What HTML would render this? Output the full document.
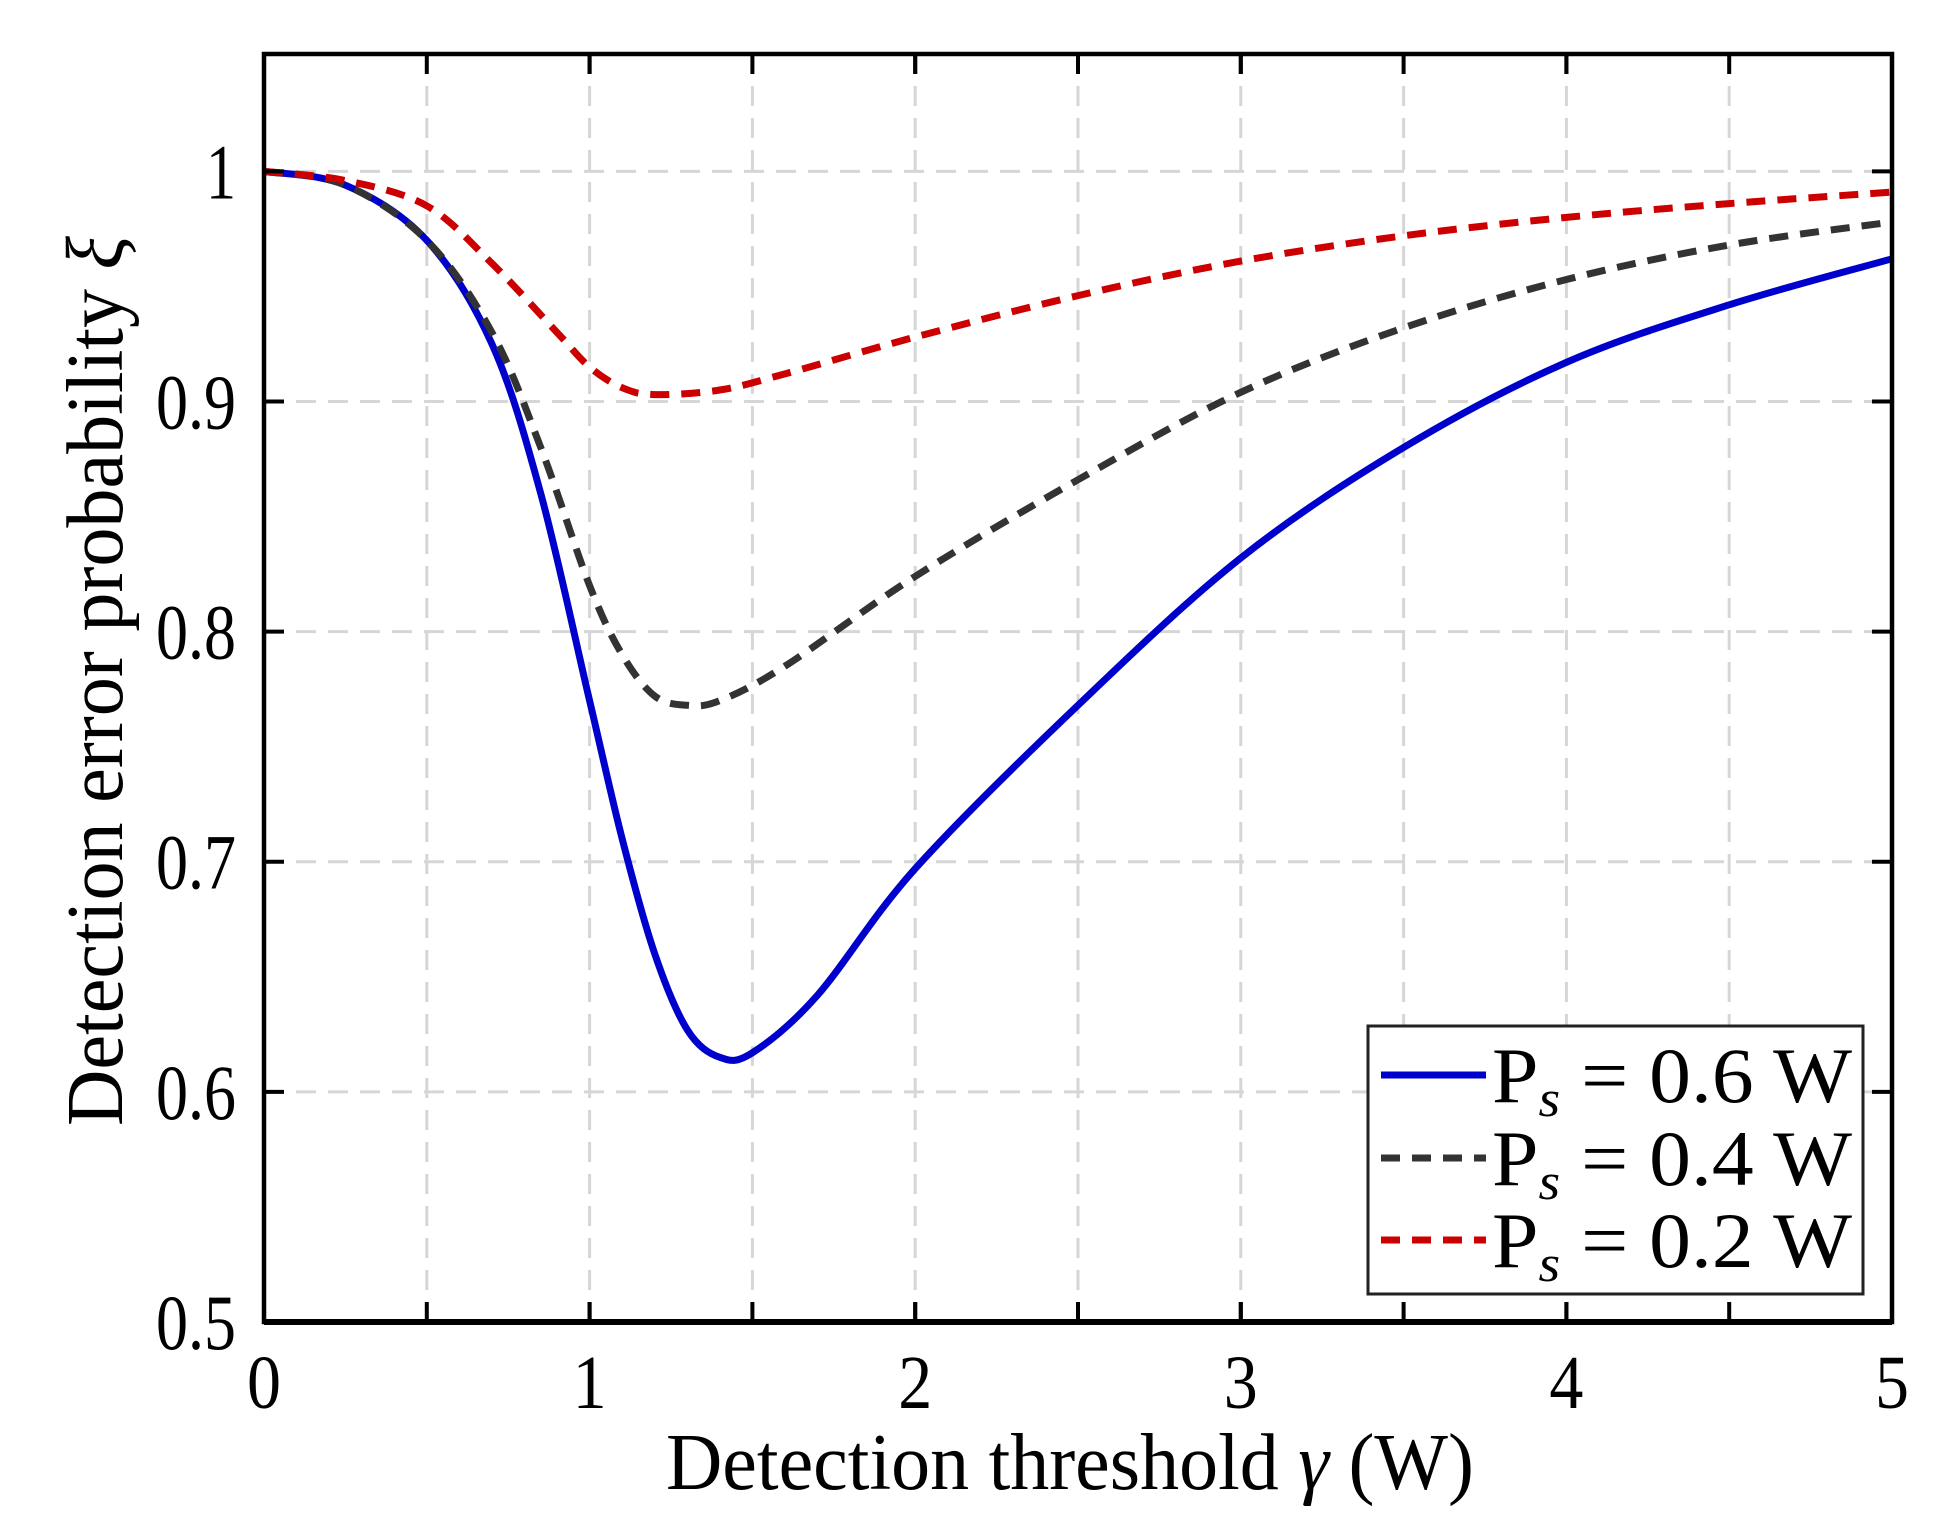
<!DOCTYPE html>
<html><head><meta charset="utf-8"><style>
html,body{margin:0;padding:0;background:#fff;}
svg{display:block;font-family:"Liberation Serif","DejaVu Serif",serif;}
</style></head><body>
<svg id="chart" width="1935" height="1539" viewBox="0 0 1935 1539" xmlns="http://www.w3.org/2000/svg">
<rect width="1935" height="1539" fill="#fff"/>
<g id="grid"></g>
<g id="series"></g>
<g id="axes"></g>
<g id="legend"></g>
</svg>
<script>
const xTicks=[0,1,2,3,4,5];
const xGrid=[0.5,1,1.5,2,2.5,3,3.5,4,4.5];
const yTicks=[0.5,0.6,0.7,0.8,0.9,1];
const yTickLabels=["0.5","0.6","0.7","0.8","0.9","1"];
const gammaBlue=[0,0.25,0.5,0.7,0.85,1.0,1.1,1.2,1.3,1.4,1.5,1.7,2.0,2.5,3.0,3.5,4.0,4.5,5];
const errBlue=[1,0.994,0.97,0.925,0.86,0.77,0.71,0.66,0.627,0.615,0.617,0.642,0.697,0.768,0.832,0.88,0.917,0.942,0.962];
const gammaBlack=[0,0.25,0.5,0.7,0.85,1.0,1.1,1.2,1.3,1.4,1.6,2.0,2.5,3.0,3.5,4.0,4.5,5];
const errBlack=[1,0.994,0.97,0.93,0.88,0.82,0.79,0.772,0.768,0.77,0.785,0.824,0.866,0.904,0.932,0.953,0.968,0.978];
const gammaRed=[0,0.25,0.5,0.7,0.9,1.0,1.1,1.2,1.4,1.6,2.0,2.5,3.0,3.5,4.0,4.5,5];
const errRed=[1,0.996,0.985,0.96,0.93,0.915,0.906,0.903,0.905,0.912,0.928,0.946,0.961,0.972,0.98,0.986,0.991];
const legendLabels=["0.6 W","0.4 W","0.2 W"];

const NS="http://www.w3.org/2000/svg";
const L=264,R=1892,T=54,B=1322;
const xMin=0,xMax=5,yMin=0.5,yMax=1.051;
function sx(v){return L+(v-xMin)/(xMax-xMin)*(R-L);}
function sy(v){return B-(v-yMin)/(yMax-yMin)*(B-T);}
function mk(tag,attrs,parent){const e=document.createElementNS(NS,tag);for(const k in attrs)e.setAttribute(k,attrs[k]);parent.appendChild(e);return e;}
const grid=document.getElementById('grid'),series=document.getElementById('series'),axes=document.getElementById('axes'),legend=document.getElementById('legend');

xGrid.forEach(v=>{const e=mk('line',{x1:sx(v),x2:sx(v),y1:T,y2:B,stroke:'#d6d6d6','stroke-width':3,'stroke-dasharray':'20 12'},grid);

});
yTicks.forEach(v=>{const e=mk('line',{x1:L,x2:R,y1:sy(v),y2:sy(v),stroke:'#d6d6d6','stroke-width':3,'stroke-dasharray':'20 12'},grid);

});

function path(xs,ys){
 const pts=xs.map((x,i)=>[sx(x),sy(ys[i])]);
 let d='M'+pts[0][0]+','+pts[0][1];
 for(let i=0;i<pts.length-1;i++){const p0=pts[Math.max(0,i-1)],p1=pts[i],p2=pts[i+1],p3=pts[Math.min(pts.length-1,i+2)];
  const c1x=p1[0]+(p2[0]-p0[0])/6,c1y=p1[1]+(p2[1]-p0[1])/6,c2x=p2[0]-(p3[0]-p1[0])/6,c2y=p2[1]-(p3[1]-p1[1])/6;
  d+=' C'+c1x+','+c1y+' '+c2x+','+c2y+' '+p2[0]+','+p2[1];}
 return d;}
const s1=mk('path',{d:path(gammaBlue,errBlue),fill:'none',stroke:'#0000cc','stroke-width':7},series);


const s2=mk('path',{d:path(gammaBlack,errBlack),fill:'none',stroke:'#333333','stroke-width':7,'stroke-dasharray':'19 12'},series);


const s3=mk('path',{d:path(gammaRed,errRed),fill:'none',stroke:'#cc0000','stroke-width':7,'stroke-dasharray':'19 12'},series);



const box=mk('rect',{x:L,y:T,width:R-L,height:B-T,fill:'none',stroke:'#000','stroke-width':4.5},axes);


mk('line',{x1:L,x2:R,y1:B,y2:B,stroke:'#000','stroke-width':6},axes);
xTicks.concat(xGrid).forEach(v=>{mk('line',{x1:sx(v),x2:sx(v),y1:B,y2:B-20,stroke:'#000','stroke-width':4},axes);mk('line',{x1:sx(v),x2:sx(v),y1:T,y2:T+20,stroke:'#000','stroke-width':4},axes);});
yTicks.forEach(v=>{mk('line',{x1:L,x2:L+20,y1:sy(v),y2:sy(v),stroke:'#000','stroke-width':4},axes);mk('line',{x1:R,x2:R-20,y1:sy(v),y2:sy(v),stroke:'#000','stroke-width':4},axes);});
xTicks.forEach(v=>{const t=mk('text',{x:sx(v),y:1408,'font-size':76,'text-anchor':'middle',textLength:34,lengthAdjust:'spacingAndGlyphs'},axes);t.textContent=String(v);

});
yTicks.forEach((v,i)=>{const s=yTickLabels[i];const t=mk('text',{x:236,y:sy(v)+27,'font-size':78,'text-anchor':'end',textLength:s.length>1?80:30,lengthAdjust:'spacingAndGlyphs'},axes);t.textContent=s;

});
const xl=mk('text',{x:1070,y:1489,'font-size':80,'text-anchor':'middle',textLength:808,lengthAdjust:'spacingAndGlyphs'},axes);
xl.innerHTML='Detection threshold <tspan font-style="italic">γ</tspan> (W)';


const yl=mk('text',{x:0,y:0,'font-size':80,'text-anchor':'middle',textLength:890,lengthAdjust:'spacingAndGlyphs',transform:'translate(122,681) rotate(-90)'},axes);
yl.innerHTML='Detection error probability <tspan font-style="italic">ξ</tspan>';



const lb=mk('rect',{x:1368,y:1026,width:495,height:268,fill:'#fff',stroke:'#222','stroke-width':3},legend);


const lc=['#0000cc','#333333','#cc0000'],ld=['none','19 12','19 12'],ly=[1075,1158,1240];
legendLabels.forEach((lab,i)=>{
 const ln=mk('line',{x1:1381,x2:1486,y1:ly[i],y2:ly[i],stroke:lc[i],'stroke-width':7,'stroke-dasharray':ld[i]},legend);
 
 
 const t=mk('text',{x:1492,y:ly[i]+27,'font-size':78,textLength:360,lengthAdjust:'spacingAndGlyphs'},legend);
 t.innerHTML='P<tspan font-style="italic" font-size="52" dy="14">s</tspan><tspan dy="-14"> = '+lab+'</tspan>';
 
 
});
</script>
</body></html>
